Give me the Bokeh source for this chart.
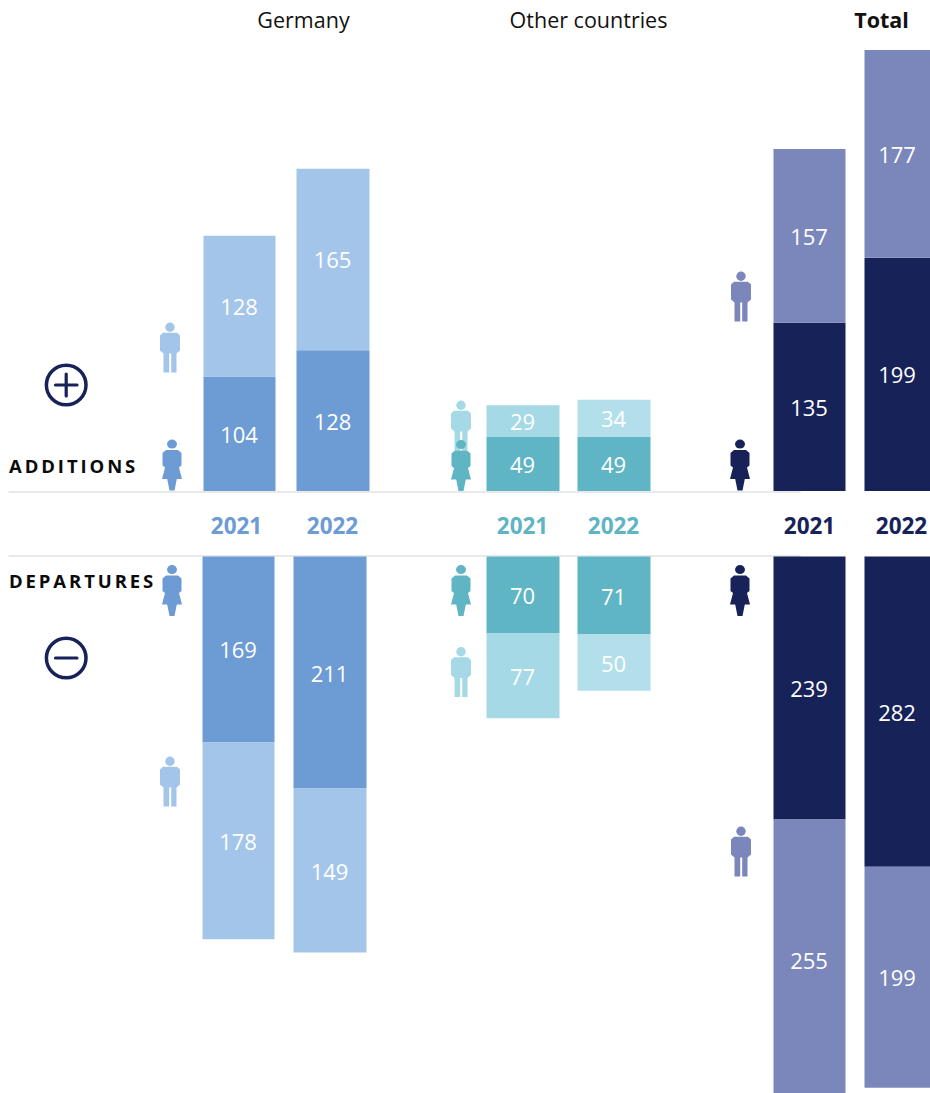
from bokeh.plotting import figure
from bokeh.models import Range1d, ColumnDataSource, HTMLLabel
from bokeh.core.properties import value
from bokeh.embed import file_html
from bokeh.resources import INLINE

# ---- data: printed labels and the bar heights as drawn in the picture ----
years = ["2021", "2022"]
add_germany_women = [104, 128]
add_germany_men = [128, 165]
add_other_women = [49, 49]
add_other_men = [29, 34]
add_total_women = [135, 199]
add_total_men = [157, 177]
dep_germany_women = [169, 211]
dep_germany_men = [178, 149]
dep_other_women = [70, 71]
dep_other_men = [77, 50]
dep_total_women = [239, 282]
dep_total_men = [255, 199]
# the source draws these bars at other heights than their printed values
add_total_women_drawn = [153, 212]
add_total_men_drawn = [158, 189]
dep_total_men_drawn = [249, 201]
dep_germany_men_drawn = [179, 149]
dep_other_men_drawn = [77, 51]

BLUE, BLUE_L = "#6D9BD4", "#A4C5EA"
TEAL, TEAL_L, TEAL_LL = "#5FB5C3", "#A5D9E6", "#B3DFEA"
NAVY, PURPLE = "#172259", "#7B87BB"
GRID = "#E2E2E2"
FONT = value("Open Sans")
W, H = 930, 1093
UNIT = 1.1      # px per person
BASE_ADD, BASE_DEP = 490.5, 556
TEXT_NUDGE = 1 / UNIT   # labels sit about 1px below the bar middle

p = figure(width=W, height=H, output_backend="svg", toolbar_location=None,
           x_range=Range1d(0, W),
           y_range=Range1d(-(H - BASE_ADD) / UNIT, BASE_ADD / UNIT),
           x_axis_type=None, y_axis_type=None, min_border=0,
           outline_line_color=None)
p.grid.visible = False
p.extra_y_ranges = {"dep": Range1d(-(H - BASE_DEP) / UNIT, BASE_DEP / UNIT),
                    "px": Range1d(H, 0)}


def stack(inner, outer, labels_in, labels_out, lefts, rights, c_in, c_out, rng, sign, label_outer=None):
    """Two-layer stacked bars growing from the baseline of range rng."""
    label_outer = label_outer or outer
    for i in range(2):
        src = ColumnDataSource(dict(
            left=[lefts[i]] * 2, right=[rights[i]] * 2,
            bottom=[0, sign * inner[i]],
            top=[sign * inner[i], sign * (inner[i] + outer[i])],
            color=[c_in, c_out[i]],
            mid=[sign * inner[i] / 2 - TEXT_NUDGE, sign * (inner[i] + label_outer[i] / 2) - TEXT_NUDGE],
            cx=[(lefts[i] + rights[i]) / 2 - 0.5] * 2,
            txt=[str(labels_in[i]), str(labels_out[i])]))
        p.quad(left="left", right="right", bottom="bottom", top="top", color="color",
               line_color=None, source=src, y_range_name=rng)
        p.text(x="cx", y="mid", text="txt", source=src, y_range_name=rng,
               text_color="white", text_font=FONT, text_font_size="22px",
               text_align="center", text_baseline="middle")


# rules first, bars are drawn on top of them
for yy in (491.5, 555.5):
    p.line([8, 800], [yy, yy], line_color=GRID, line_width=1.5, y_range_name="px")

stack(add_germany_women, add_germany_men, add_germany_women, add_germany_men,
      [203, 296], [275, 369], BLUE, [BLUE_L, BLUE_L], "default", 1)
stack(add_other_women, add_other_men, add_other_women, add_other_men,
      [486, 577], [559, 650], TEAL, [TEAL_L, TEAL_LL], "default", 1)
stack(add_total_women_drawn, add_total_men_drawn, add_total_women, add_total_men,
      [773, 864], [845, 930], NAVY, [PURPLE, PURPLE], "default", 1)
stack(dep_germany_women, dep_germany_men_drawn, dep_germany_women, dep_germany_men,
      [202, 293], [274, 366], BLUE, [BLUE_L, BLUE_L], "dep", -1)
stack(dep_other_women, dep_other_men_drawn, dep_other_women, dep_other_men,
      [486, 577], [559, 650], TEAL, [TEAL_L, TEAL_LL], "dep", -1)
stack(dep_total_women, dep_total_men_drawn, dep_total_women, dep_total_men,
      [773, 864], [845, 930], NAVY, [PURPLE, PURPLE], "dep", -1, label_outer=[255, 201])

# ---- headers ----
for t, x, st in [("Germany", 303, "normal"), ("Other countries", 588, "normal"), ("Total", 881, "bold")]:
    p.text(x=[x], y=[19], text=[t], y_range_name="px", text_color="#111111", text_font=FONT,
           text_font_size="21.5px", text_font_style=st, text_align="center", text_baseline="middle")

for x, c, t in [(236, BLUE, 0), (332, BLUE, 1), (522, TEAL, 0), (613, TEAL, 1), (809, NAVY, 0), (901, NAVY, 1)]:
    p.text(x=[x], y=[525], text=[years[t]], y_range_name="px", text_color=c, text_font=FONT,
           text_font_size="22.5px", text_font_style="bold", text_align="center", text_baseline="middle")

for t, yy in [("ADDITIONS", 478), ("DEPARTURES", 593)]:
    p.add_layout(HTMLLabel(x=9, y=yy, y_range_name="px", text=t, text_color="#0A0A0A",
                           text_font="Open Sans", text_font_size="18.5px", text_font_style="bold",
                           text_line_height=1.1,
                           styles={"letter-spacing": "2.9px", "white-space": "nowrap",
                                   "font-family": "'Open Sans'", "font-weight": "700"}))


# ---- person icons ----
def man(cx, top, color):
    p.patch([cx - 10, cx - 7, cx + 7, cx + 10, cx + 10, cx + 6.5, cx + 6.5, cx + 1.2, cx + 1.2,
             cx - 0.8, cx - 0.8, cx - 6.5, cx - 6.5, cx - 10],
            [top + 13, top + 10.3, top + 10.3, top + 13, top + 28, top + 31, top + 50, top + 50, top + 31,
             top + 31, top + 50, top + 50, top + 31, top + 28],
            color=color, line_color=None, y_range_name="px")
    p.circle(x=[cx], y=[top + 4.7], radius=4.7, color=color, line_color=None, y_range_name="px")


def woman(cx, top, color):
    p.patch([cx - 9.5, cx - 6, cx + 6, cx + 9.5, cx + 9.5, cx + 7, cx + 10, cx + 4.8, cx + 2.5,
             cx - 2.5, cx - 4.8, cx - 10, cx - 7, cx - 9.5],
            [top + 13.5, top + 10.5, top + 10.5, top + 13.5, top + 26, top + 28, top + 39.5, top + 39.5, top + 51,
             top + 51, top + 39.5, top + 39.5, top + 28, top + 26],
            color=color, line_color=None, y_range_name="px")
    p.ellipse(x=[cx], y=[top + 4.6], width=10, height=9, color=color, line_color=None, y_range_name="px")


man(169.5, 322, BLUE_L)
woman(171.5, 439, BLUE)
woman(171.5, 564.5, BLUE)
man(169.5, 756, BLUE_L)
man(460.5, 400, TEAL_L)
woman(460.5, 439.5, TEAL)
woman(460.5, 564.5, TEAL)
man(460.5, 646.5, TEAL_L)
man(740.5, 271, PURPLE)
woman(739.5, 439, NAVY)
woman(739.5, 564.5, NAVY)
man(740.5, 826, PURPLE)

# ---- plus / minus signs ----
for cy in (384.5, 657.5):
    p.circle(x=[65.7], y=[cy], radius=19.8, fill_color=None, line_color=NAVY, line_width=3.5, y_range_name="px")
    p.line([55, 76.5], [cy, cy], line_color=NAVY, line_width=3.2, line_cap="round", y_range_name="px")
p.line([65.7, 65.7], [373.5, 395.5], line_color=NAVY, line_width=3.2, line_cap="round", y_range_name="px")

open("out.html", "w").write(file_html(p, INLINE))
